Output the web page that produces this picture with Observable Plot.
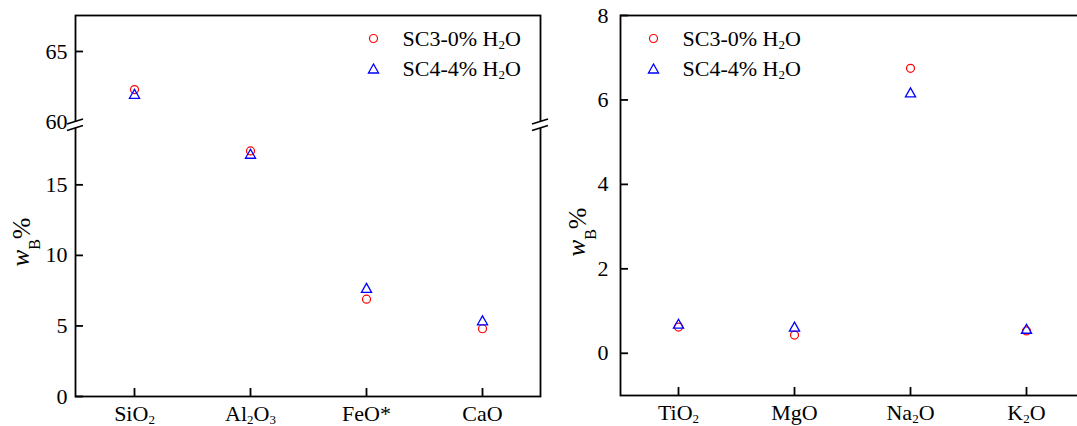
<!DOCTYPE html>
<html>
<head>
<meta charset="utf-8">
<script src="https://cdn.jsdelivr.net/npm/d3@7"></script>
<script src="https://cdn.jsdelivr.net/npm/@observablehq/plot@0.6"></script>
<style>
  html, body { margin: 0; padding: 0; background: #fff; overflow: hidden; }
  #chart { position: relative; width: 1077px; height: 426px; overflow: hidden; }
  #chart svg { position: absolute; top: 0; }
  #chart svg text { font-family: "Liberation Serif", "Times New Roman", serif; font-variant-numeric: normal; }
</style>
</head>
<body>
<div id="chart"></div>
<script>
// Major oxides, wt% (SiO2 sits above the axis break)
const majorOxides = ["SiO_2", "Al_2O_3", "FeO*", "CaO"];
const majorSC3 = [62.3, 17.4, 6.9, 4.8];
const majorSC4 = [62.0, 17.2, 7.7, 5.4];

// Minor oxides, wt%
const minorOxides = ["TiO_2", "MgO", "Na_2O", "K_2O"];
const minorSC3 = [0.62, 0.43, 6.75, 0.53];
const minorSC4 = [0.70, 0.63, 6.18, 0.58];

const seriesNames = ["SC3-0% H_2O", "SC4-4% H_2O"];
const majorTicks = [0, 5, 10, 15, 60, 65];
const minorTicks = [0, 2, 4, 6, 8];

// Broken y axis for the major oxides: values above the gap are shifted down
const lowerMax = 19, upperMin = 60, shift = 40.55;
const toAxis = v => (v >= upperMin ? v - shift : v);
const fromAxis = t => (t > lowerMax + 0.2 ? Math.round(t + shift) : Math.round(t));

const FONT = "Liberation Serif";

// Open triangle centred on its bounding box
const triangle = {
  draw(ctx, size) {
    const r = Math.sqrt(size / Math.PI);
    const h = r * 1.15, w = r * 1.3;
    ctx.moveTo(0, -h);
    ctx.lineTo(w, h);
    ctx.lineTo(-w, h);
    ctx.closePath();
  }
};

// Double slash marks where the y axis is interrupted
function axisBreak(lowEnd, highStart) {
  return (index, scales, values, dims) => {
    const g = d3.create("svg:g");
    const yLow = scales.y(lowEnd), yHigh = scales.y(highStart);
    const half = 8, rise = 2.5;
    for (const x of [dims.marginLeft, dims.width - dims.marginRight]) {
      g.append("polygon")
        .attr("points", [
          [x - half, yHigh + rise], [x + half, yHigh - rise],
          [x + half, yLow - rise], [x - half, yLow + rise]
        ].map(p => p.join(",")).join(" "))
        .attr("fill", "white");
      for (const y of [yHigh, yLow]) {
        g.append("line")
          .attr("x1", x - half).attr("y1", y + rise)
          .attr("x2", x + half).attr("y2", y - rise)
          .attr("stroke", "black").attr("stroke-width", 1.6);
      }
    }
    return g.node();
  };
}

// Turn "_2" style markers into lowered, smaller tspans
function applySubscripts(svg) {
  for (const t of svg.querySelectorAll("text")) {
    if (t.querySelector("tspan")) continue;
    const s = t.textContent;
    if (!s.includes("_")) continue;
    const parts = s.split(/_(\d)/);
    t.textContent = "";
    let lowered = false;
    parts.forEach((p, i) => {
      if (p === "") return;
      const sp = document.createElementNS("http://www.w3.org/2000/svg", "tspan");
      if (i % 2 === 1) {
        sp.setAttribute("font-size", 13);
        sp.setAttribute("dy", 3);
        lowered = true;
      } else if (lowered) {
        sp.setAttribute("dy", -3);
        lowered = false;
      }
      sp.textContent = p;
      t.appendChild(sp);
    });
  }
}

function yTitle(svg, x, y) {
  const t = d3.select(svg).append("text")
    .attr("transform", `translate(${x},${y}) rotate(-90)`)
    .attr("font-family", FONT)
    .attr("fill", "black");
  t.append("tspan").attr("font-style", "italic").attr("font-size", 25).text("w");
  t.append("tspan").attr("font-size", 16).attr("dy", 11).text("B");
  t.append("tspan").attr("font-size", 26).attr("dy", -10).text("%");
}

function panel({oxides, sc3, sc4, width, marginLeft, marginRight, marginBottom,
                yDomain, yTicks, tickLines, ty, format, tickPadding, legendDx, breakMark}) {
  const height = 426, marginTop = 15;
  const innerW = width - marginLeft - marginRight;
  const innerH = height - marginTop - marginBottom;
  const rows3 = oxides.map((o, i) => ({oxide: o, value: sc3[i]}));
  const rows4 = oxides.map((o, i) => ({oxide: o, value: sc4[i]}));
  const textStyle = {fontSize: 22, fontFamily: FONT, fill: "black"};
  const circleStyle = {r: 4, fill: "none", stroke: "#ff0000", strokeWidth: 1.2};
  const triStyle = {r: 3.9, symbol: triangle, fill: "none", stroke: "#0000ff", strokeWidth: 1.3};
  const marks = [
    Plot.frame({stroke: "black", strokeWidth: 1.8}),
    Plot.tickX(oxides, {x: d => d, insetTop: innerH - 8, stroke: "black", strokeWidth: 1.8}),
    Plot.tickY(tickLines, {y: d => ty(d), insetRight: innerW - 8, stroke: "black", strokeWidth: 1.8}),
    Plot.axisX({tickSize: 0, tickPadding: 9, label: null, ...textStyle}),
    Plot.axisY({ticks: yTicks.map(ty), tickFormat: format, tickSize: 0, tickPadding, label: null, ...textStyle}),
    Plot.dot(rows3, {x: "oxide", y: d => ty(d.value), ...circleStyle}),
    Plot.dot(rows4, {x: "oxide", y: d => ty(d.value), ...triStyle}),
    Plot.dot([0], {frameAnchor: "top-left", dx: legendDx, dy: 23, ...circleStyle}),
    Plot.dot([0], {frameAnchor: "top-left", dx: legendDx, dy: 53, ...triStyle}),
    Plot.text([seriesNames[0]], {frameAnchor: "top-left", dx: legendDx + 29, dy: 23, textAnchor: "start", lineAnchor: "middle", ...textStyle}),
    Plot.text([seriesNames[1]], {frameAnchor: "top-left", dx: legendDx + 29, dy: 53, textAnchor: "start", lineAnchor: "middle", ...textStyle})
  ];
  if (breakMark) marks.push(breakMark);
  const svg = Plot.plot({
    width, height, marginLeft, marginRight, marginTop, marginBottom,
    style: {fontFamily: FONT, fontSize: "22px", color: "black", background: "white", overflow: "visible"},
    x: {type: "point", domain: oxides, padding: 0.5},
    y: {domain: yDomain},
    marks
  });
  applySubscripts(svg);
  return svg;
}

const chart = document.getElementById("chart");

const left = panel({
  oxides: majorOxides, sc3: majorSC3, sc4: majorSC4,
  width: 560, marginLeft: 75, marginRight: 20, marginBottom: 30,
  yDomain: [0, 27.0], yTicks: majorTicks,
  tickLines: majorTicks.filter(v => v !== upperMin),
  ty: toAxis, format: d => String(fromAxis(d)), tickPadding: 8,
  legendDx: 298,
  breakMark: axisBreak(lowerMax, toAxis(upperMin))
});
yTitle(left, 29, 242);
left.style.left = "0px";
chart.appendChild(left);

const right = panel({
  oxides: minorOxides, sc3: minorSC3, sc4: minorSC4,
  width: 540, marginLeft: 60, marginRight: 16, marginBottom: 31,
  yDomain: [-1, 8], yTicks: minorTicks, tickLines: minorTicks,
  ty: v => v, format: d => String(d), tickPadding: 12,
  legendDx: 33,
  breakMark: null
});
yTitle(right, 585 - 560, 232);
right.style.left = "560px";
chart.appendChild(right);
</script>
</body>
</html>
